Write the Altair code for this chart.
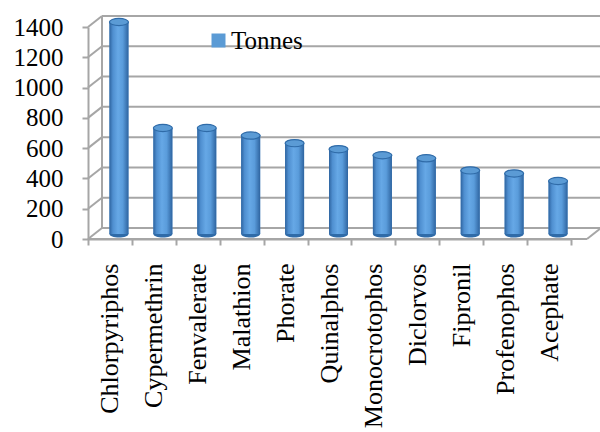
import altair as alt
import pandas as pd

chemicals = ["Chlorpyriphos", "Cypermethrin", "Fenvalerate", "Malathion", "Phorate",
             "Quinalphos", "Monocrotophos", "Diclorvos", "Fipronil", "Profenophos", "Acephate"]
tonnes = [1400, 700, 700, 650, 600, 560, 520, 500, 420, 400, 350]
y_ticks = [0, 200, 400, 600, 800, 1000, 1200, 1400]
series_name = "Tonnes"

df = pd.DataFrame({"chem": chemicals, "tonnes": tonnes, "series": series_name, "zero": 0})
grid_df = pd.DataFrame({"v": y_ticks})

W, H = 483, 212
FONT = "Liberation Serif"
GRID = "#A6A6A6"
DX, DY = 14, -11

xenc = alt.X("chem:N", sort=chemicals, title=None,
             scale=alt.Scale(paddingInner=0, paddingOuter=0),
             axis=alt.Axis(labelAngle=-90, labelFont=FONT, labelFontSize=26, labelColor="#000000",
                           labelPadding=18, tickBand="extent", tickSize=6, tickColor=GRID,
                           tickWidth=2, domainColor=GRID, domainWidth=2, labelLimit=400))
yscale = alt.Scale(domain=[0, 1400], nice=False)
yaxis = alt.Axis(values=y_ticks, format="d", labelFont=FONT, labelFontSize=25, labelColor="#000000",
                 labelPadding=19, tickSize=6, tickColor=GRID, tickWidth=2,
                 domainColor=GRID, domainWidth=2, grid=False)


def Y(field):
    return alt.Y(field, scale=yscale, title=None, axis=yaxis)


# back wall gridlines
grid = alt.Chart(grid_df).mark_rule(color=GRID, strokeWidth=2, yOffset=DY, y2Offset=DY).encode(
    y=Y("v:Q"), x=alt.value(DX), x2=alt.value(W + 40))
# diagonals from front ticks to back wall
diag = alt.Chart(grid_df).mark_rule(color=GRID, strokeWidth=2, y2Offset=DY).encode(
    y=Y("v:Q"), y2="v:Q", x=alt.value(0), x2=alt.value(DX))
# back wall left edge
wall = alt.Chart(pd.DataFrame({"a": [0], "b": [1400]})).mark_rule(
    color=GRID, strokeWidth=2, yOffset=DY, y2Offset=DY).encode(
    y=Y("a:Q"), y2="b:Q", x=alt.value(DX))
# floor front edge and right diagonal
floor = alt.Chart(pd.DataFrame({"a": [0]})).mark_rule(color=GRID, strokeWidth=2).encode(
    y=Y("a:Q"), x=alt.value(0), x2=alt.value(W + 16))
floor_r = alt.Chart(pd.DataFrame({"a": [0]})).mark_rule(color=GRID, strokeWidth=2, y2Offset=DY).encode(
    y=Y("a:Q"), y2="a:Q", x=alt.value(W + 16), x2=alt.value(W + 16 + DX))

BW = 19
XO = 9
YO = -5
ellipse = "M -1 0 A 1 0.38 0 1 1 1 0 A 1 0.38 0 1 1 -1 0 Z"

bottom = alt.Chart(df).mark_point(shape=ellipse, filled=True, size=BW * BW, color="#2F6BA8",
                                  opacity=1, xOffset=XO, yOffset=YO).encode(
    x=xenc, y=Y("zero:Q"))

base_bars = alt.Chart(df).mark_bar(size=BW, xOffset=XO, yOffset=YO, y2Offset=YO).encode(
    x=xenc, y=Y("tonnes:Q"), y2=alt.Y2("zero:Q"),
    color=alt.Color("series:N", scale=alt.Scale(range=["#5B9BD5"]),
                    legend=alt.Legend(title=None, orient="none", legendX=118, legendY=1,
                                      symbolType="square", symbolSize=196, symbolStrokeWidth=0,
                                      labelFont=FONT, labelFontSize=25, labelColor="#000000",
                                      labelOffset=0)))

grad = alt.Gradient(gradient="linear", x1=0, x2=1, y1=0, y2=0, stops=[
    alt.GradientStop(color="#2E64A0", offset=0),
    alt.GradientStop(color="#4F8FD0", offset=0.18),
    alt.GradientStop(color="#66A8E6", offset=0.45),
    alt.GradientStop(color="#5A9CDB", offset=0.7),
    alt.GradientStop(color="#2E64A0", offset=1)])
cyl = alt.Chart(df).mark_bar(size=BW, xOffset=XO, yOffset=YO, y2Offset=YO, color=grad).encode(
    x=xenc, y=Y("tonnes:Q"), y2=alt.Y2("zero:Q"))

top = alt.Chart(df).mark_point(shape=ellipse, filled=True, size=BW * BW, color="#5B9BD5",
                               stroke="#2F6BA8", strokeWidth=1.2, opacity=1,
                               xOffset=XO, yOffset=YO).encode(
    x=xenc, y=Y("tonnes:Q"))

chart = alt.layer(grid, diag, wall, floor, floor_r, bottom, base_bars, cyl, top).properties(
    width=W, height=H, autosize=alt.AutoSizeParams(type="none"),
    padding={"left": 88, "top": 27, "right": 29, "bottom": 193}, background="white"
).configure_view(stroke=None)

chart.save("out.html", embed_options={"renderer": "svg", "actions": False})
